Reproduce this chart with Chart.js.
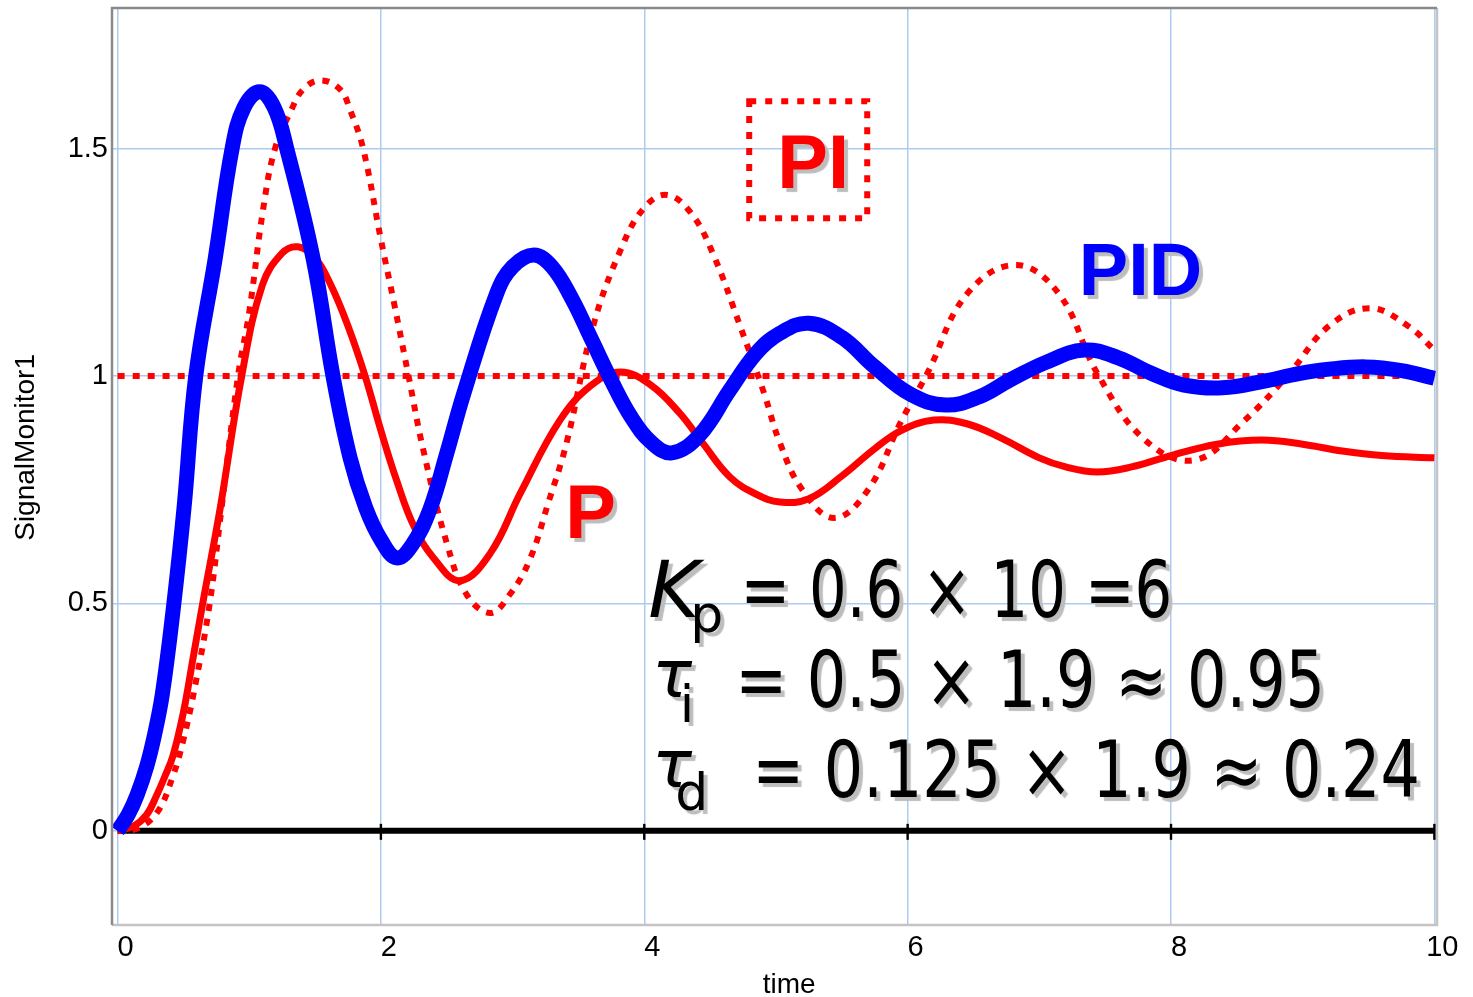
<!DOCTYPE html>
<html>
<head>
<meta charset="utf-8">
<script src="https://cdn.jsdelivr.net/npm/chart.js@4.4.1/dist/chart.umd.min.js"></script>
<style>
  html, body { margin: 0; padding: 0; background: #fff; overflow: hidden; }
  #wrap { width: 1473px; height: 997px; position: relative; }
</style>
</head>
<body>
<div id="wrap"><canvas id="myChart"></canvas></div>
<script>
// step responses (time -> SignalMonitor1)
const pidTime = [0, 0.08, 0.15, 0.22, 0.28, 0.34, 0.42, 0.505, 0.594, 0.741, 0.87, 0.96, 1.08, 1.19, 1.285, 1.486, 1.636, 1.766, 1.885, 2.0, 2.12, 2.24, 2.37, 2.5, 2.63, 2.88, 3.0, 3.16, 3.3, 3.45, 3.6, 3.75, 3.9, 4.05, 4.21, 4.42, 4.65, 4.85, 5.03, 5.25, 5.5, 5.75, 6.02, 6.29, 6.55, 6.77, 7.05, 7.34, 7.6, 7.85, 8.1, 8.39, 8.7, 8.97, 9.2, 9.48, 9.75, 10];
const pidValue = [0, 0.035, 0.08, 0.14, 0.21, 0.3, 0.48, 0.71, 1.0, 1.257, 1.5, 1.59, 1.625, 1.59, 1.5, 1.257, 1.0, 0.82, 0.71, 0.64, 0.6, 0.63, 0.705, 0.83, 0.962, 1.182, 1.24, 1.266, 1.24, 1.17, 1.08, 0.99, 0.91, 0.855, 0.831, 0.87, 0.969, 1.05, 1.094, 1.116, 1.085, 1.02, 0.96, 0.936, 0.955, 0.99, 1.03, 1.057, 1.04, 1.006, 0.98, 0.974, 0.988, 1.005, 1.015, 1.02, 1.012, 0.995];

const pTime = [0, 0.12, 0.22, 0.3, 0.36, 0.42, 0.5, 0.575, 0.647, 0.78, 0.943, 1.1, 1.25, 1.37, 1.5, 1.62, 1.75, 1.88, 2.0, 2.12, 2.25, 2.4, 2.6, 2.83, 3.06, 3.36, 3.6, 3.82, 4.05, 4.27, 4.45, 4.65, 4.85, 5.03, 5.25, 5.5, 5.75, 5.95, 6.2, 6.45, 6.7, 7.0, 7.2, 7.44, 7.7, 8.0, 8.35, 8.69, 9.0, 9.3, 9.6, 10];
const pValue = [0, 0.01, 0.035, 0.08, 0.12, 0.164, 0.26, 0.382, 0.5, 0.71, 1.0, 1.2, 1.27, 1.284, 1.26, 1.2, 1.11, 1.0, 0.88, 0.77, 0.67, 0.6, 0.55, 0.61, 0.743, 0.903, 0.98, 1.009, 0.98, 0.918, 0.85, 0.778, 0.74, 0.723, 0.73, 0.78, 0.84, 0.88, 0.903, 0.895, 0.865, 0.82, 0.8, 0.789, 0.8, 0.825, 0.85, 0.859, 0.85, 0.835, 0.825, 0.82];

const piTime = [0, 0.15, 0.3, 0.42, 0.5, 0.59, 0.7, 0.79, 0.915, 1.0, 1.106, 1.196, 1.32, 1.41, 1.54, 1.69, 1.766, 1.865, 2.0, 2.1, 2.21, 2.32, 2.5, 2.65, 2.83, 2.98, 3.13, 3.27, 3.41, 3.61, 3.82, 4.0, 4.17, 4.35, 4.52, 4.73, 4.91, 5.03, 5.2, 5.44, 5.7, 5.95, 6.15, 6.45, 6.82, 7.15, 7.44, 7.8, 8.18, 8.55, 8.9, 9.2, 9.51, 9.8, 10];
const piValue = [0, 0.005, 0.04, 0.12, 0.2, 0.32, 0.5, 0.71, 1.0, 1.14, 1.367, 1.5, 1.585, 1.63, 1.65, 1.63, 1.585, 1.5, 1.3, 1.16, 1.0, 0.84, 0.633, 0.52, 0.479, 0.52, 0.596, 0.72, 0.853, 1.108, 1.277, 1.37, 1.398, 1.36, 1.27, 1.108, 0.962, 0.853, 0.75, 0.688, 0.75, 0.9, 1.006, 1.18, 1.244, 1.18, 1.006, 0.86, 0.815, 0.9, 1.006, 1.11, 1.149, 1.11, 1.057];

const setpointTime = [0, 10];
const setpointValue = [1, 1];
const zeroTime = [0, 10];
const zeroValue = [0, 0];

const xTicks = [0, 2, 4, 6, 8, 10];
const yTicks = [0, 0.5, 1, 1.5];

function toPoints(xs, ys) {
    let pts = [];
    for (let i = 0; i < xs.length; i++) {
        pts.push({x: xs[i], y: ys[i]});
    }
    return pts;
}

const RED = '#ff0000';
const BLUE = '#0000ff';
const SHADOW = '#bdbdbd';

// frame round the plot, and the little ticks on the zero line
const framePlugin = {
    id: 'frame',
    afterDatasetsDraw(chart) {
        const {ctx, chartArea: a, scales} = chart;
        ctx.save();
        ctx.lineWidth = 2.5;
        ctx.strokeStyle = '#c4c4c4';
        ctx.beginPath();
        ctx.moveTo(a.right, a.top); ctx.lineTo(a.right, a.bottom); ctx.lineTo(a.left, a.bottom);
        ctx.stroke();
        ctx.strokeStyle = '#8a8a8a';
        ctx.beginPath();
        ctx.moveTo(a.left, a.bottom); ctx.lineTo(a.left, a.top); ctx.lineTo(a.right, a.top);
        ctx.stroke();

        const y0 = scales.y.getPixelForValue(0);
        ctx.fillStyle = '#000';
        for (let i = 1; i < xTicks.length; i++) {
            const px = scales.x.getPixelForValue(xTicks[i]);
            ctx.fillRect(px - 1.2, y0 - 7, 2.4, 16);
        }
        ctx.restore();
    }
};

// text placed on the plot, positions in data units
const notes = [
    {text: 'PI', x: 5.01, y: 1.413, font: 'bold 76px "Liberation Sans", Arial', color: RED},
    {text: 'PID', x: 7.30, y: 1.178, font: 'bold 74px "Liberation Sans", Arial', color: BLUE},
    {text: 'P', x: 3.40, y: 0.644, font: 'bold 76px "Liberation Sans", Arial', color: RED},
    {text: 'K', x: 4.03, y: 0.470, font: 'italic 78px "DejaVu Sans"', color: '#000'},
    {text: 'p', x: 4.35, y: 0.437, font: '52px "DejaVu Sans"', color: '#000'},
    {text: '= 0.6 \u00d7 10 =6', x: 4.73, y: 0.470, w: 3.28, font: '78px "DejaVu Sans"', color: '#000'},
    {text: '\u03c4', x: 4.06, y: 0.295, font: 'italic 66px "DejaVu Sans"', color: '#000'},
    {text: 'i', x: 4.27, y: 0.240, font: '52px "DejaVu Sans"', color: '#000'},
    {text: '= 0.5 \u00d7 1.9 \u2248 0.95', x: 4.69, y: 0.2725, w: 4.48, font: '78px "DejaVu Sans"', color: '#000'},
    {text: '\u03c4', x: 4.06, y: 0.097, font: 'italic 66px "DejaVu Sans"', color: '#000'},
    {text: 'd', x: 4.235, y: 0.046, font: '52px "DejaVu Sans"', color: '#000'},
    {text: '= 0.125 \u00d7 1.9 \u2248 0.24', x: 4.82, y: 0.075, w: 5.07, font: '78px "DejaVu Sans"', color: '#000'}
];
const piBox = {x0: 4.797, x1: 5.693, y0: 1.347, y1: 1.604};

const notesPlugin = {
    id: 'notes',
    afterDatasetsDraw(chart) {
        const {ctx, scales: {x, y}} = chart;
        ctx.save();
        ctx.textAlign = 'left';
        ctx.textBaseline = 'alphabetic';
        ctx.shadowColor = SHADOW;
        ctx.shadowOffsetX = 4;
        ctx.shadowOffsetY = 4;
        ctx.shadowBlur = 1;
        notes.forEach(function (n) {
            ctx.font = n.font;
            ctx.fillStyle = n.color;
            const px = x.getPixelForValue(n.x);
            const py = y.getPixelForValue(n.y);
            if (n.w) {
                ctx.fillText(n.text, px, py, x.getPixelForValue(n.x + n.w) - px);
            } else {
                ctx.fillText(n.text, px, py);
            }
        });
        ctx.shadowColor = 'transparent';
        ctx.strokeStyle = RED;
        ctx.lineWidth = 6;
        ctx.setLineDash([7, 9]);
        const bx = x.getPixelForValue(piBox.x0), by = y.getPixelForValue(piBox.y1);
        ctx.strokeRect(bx, by, x.getPixelForValue(piBox.x1) - bx, y.getPixelForValue(piBox.y0) - by);
        ctx.setLineDash([]);

        // axis titles
        ctx.fillStyle = '#000';
        ctx.font = '28px "Liberation Sans", Arial';
        ctx.textAlign = 'center';
        ctx.fillText('time', x.getPixelForValue(5.1), chart.height - 4);
        ctx.translate(34, y.getPixelForValue(0.843));
        ctx.rotate(-Math.PI / 2);
        ctx.fillText('SignalMonitor1', 0, 0);
        ctx.restore();
    }
};

const ctx = document.getElementById('myChart').getContext('2d');
const myChart = new Chart(ctx, {
    type: 'line',
    data: {
        datasets: [{
            label: 'PID',
            data: toPoints(pidTime, pidValue),
            borderColor: BLUE,
            borderWidth: 15
        }, {
            label: 'P',
            data: toPoints(pTime, pValue),
            borderColor: RED,
            borderWidth: 7
        }, {
            label: 'PI',
            data: toPoints(piTime, piValue),
            borderColor: RED,
            borderWidth: 6,
            borderDash: [7, 8]
        }, {
            label: 'setpoint',
            data: toPoints(setpointTime, setpointValue),
            borderColor: RED,
            borderWidth: 6,
            borderDash: [7, 8]
        }, {
            label: 'zero',
            data: toPoints(zeroTime, zeroValue),
            borderColor: '#000',
            borderWidth: 6
        }]
    },
    options: {
        responsive: true,
        maintainAspectRatio: false,
        animation: false,
        layout: {padding: {top: 8, right: 36, left: 0, bottom: 0}},
        elements: {
            point: {radius: 0},
            line: {tension: 0.4, borderCapStyle: 'butt', borderJoinStyle: 'round', fill: false}
        },
        plugins: {
            legend: {display: false},
            tooltip: {enabled: false}
        },
        scales: {
            x: {
                type: 'linear',
                min: -0.042,
                max: 10.02,
                afterBuildTicks: function (s) { s.ticks = xTicks.map(v => ({value: v})); },
                afterFit: function (s) { s.height = 72; s.paddingLeft = 0; s.paddingRight = 0; },
                grid: {color: '#aecbef', lineWidth: 1.5, drawTicks: false},
                border: {display: false},
                ticks: {
                    color: '#000',
                    font: {family: '"Liberation Sans", Arial', size: 29},
                    padding: 6,
                    labelOffset: 8,
                    maxRotation: 0,
                    callback: function (v) { return String(v); }
                }
            },
            y: {
                type: 'linear',
                min: -0.207,
                max: 1.809,
                afterBuildTicks: function (s) { s.ticks = yTicks.map(v => ({value: v})); },
                afterFit: function (s) { s.width = 112; s.paddingTop = 0; s.paddingBottom = 0; },
                grid: {color: '#aecbef', lineWidth: 1.5, drawTicks: false},
                border: {display: false},
                ticks: {
                    color: '#000',
                    font: {family: '"Liberation Sans", Arial', size: 29},
                    padding: 4,
                    callback: function (v) { return String(v); }
                }
            }
        }
    },
    plugins: [framePlugin, notesPlugin]
});
</script>
</body>
</html>
